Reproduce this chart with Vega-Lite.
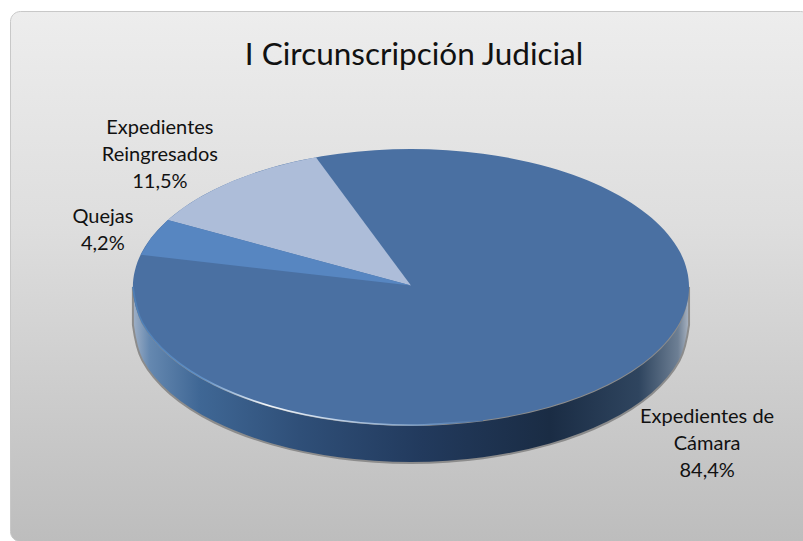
{
"$schema":"https://vega.github.io/schema/vega-lite/v6.json",
"width":800,"height":530,
"autosize":"none",
"padding":{"left":10,"top":11,"right":0,"bottom":0},
"background":"#ffffff",
"config":{"view":{"cornerRadius":10,"stroke":"#c8c8c8","strokeWidth":1,"fill":{"gradient":"linear","x1":0,"y1":0,"x2":0,"y2":1,"stops":[{"offset":0,"color":"#ededed"},{"offset":0.4,"color":"#dedede"},{"offset":1,"color":"#bdbdbd"}]}},"font":"Lato"},
"title":{"text":"I Circunscripción Judicial","font":"Lato","fontSize":31.5,"fontWeight":"normal","color":"#111111","anchor":"middle","frame":"group","dx":4,"offset":-60},
"datasets":{
"disco":[
{"categoria":"Expedientes de Cámara","i":0,"u":0,"v":1},{"categoria":"Expedientes de Cámara","i":1,"u":0.2588,"v":0.9659},{"categoria":"Expedientes de Cámara","i":2,"u":0.5,"v":0.866},{"categoria":"Expedientes de Cámara","i":3,"u":0.7071,"v":0.7071},{"categoria":"Expedientes de Cámara","i":4,"u":0.866,"v":0.5},{"categoria":"Expedientes de Cámara","i":5,"u":0.9659,"v":0.2588},{"categoria":"Expedientes de Cámara","i":6,"u":1,"v":0},{"categoria":"Expedientes de Cámara","i":7,"u":0.9659,"v":-0.2588},{"categoria":"Expedientes de Cámara","i":8,"u":0.866,"v":-0.5},{"categoria":"Expedientes de Cámara","i":9,"u":0.7071,"v":-0.7071},{"categoria":"Expedientes de Cámara","i":10,"u":0.5,"v":-0.866},{"categoria":"Expedientes de Cámara","i":11,"u":0.2588,"v":-0.9659},{"categoria":"Expedientes de Cámara","i":12,"u":0,"v":-1},{"categoria":"Expedientes de Cámara","i":13,"u":-0.2588,"v":-0.9659},{"categoria":"Expedientes de Cámara","i":14,"u":-0.5,"v":-0.866},{"categoria":"Expedientes de Cámara","i":15,"u":-0.7071,"v":-0.7071},{"categoria":"Expedientes de Cámara","i":16,"u":-0.866,"v":-0.5},{"categoria":"Expedientes de Cámara","i":17,"u":-0.9659,"v":-0.2588},{"categoria":"Expedientes de Cámara","i":18,"u":-1,"v":0},{"categoria":"Expedientes de Cámara","i":19,"u":-0.9659,"v":0.2588},{"categoria":"Expedientes de Cámara","i":20,"u":-0.866,"v":0.5},{"categoria":"Expedientes de Cámara","i":21,"u":-0.7071,"v":0.7071},{"categoria":"Expedientes de Cámara","i":22,"u":-0.5,"v":0.866},{"categoria":"Expedientes de Cámara","i":23,"u":-0.2588,"v":0.9659}
],
"porciones":[
{"categoria":"Expedientes Reingresados","i":0,"u":0,"v":0.01},{"categoria":"Expedientes Reingresados","i":1,"u":-0.342,"v":0.94},{"categoria":"Expedientes Reingresados","i":2,"u":-0.423,"v":0.906},{"categoria":"Expedientes Reingresados","i":3,"u":-0.5,"v":0.866},{"categoria":"Expedientes Reingresados","i":4,"u":-0.574,"v":0.819},{"categoria":"Expedientes Reingresados","i":5,"u":-0.643,"v":0.766},{"categoria":"Expedientes Reingresados","i":6,"u":-0.707,"v":0.707},{"categoria":"Expedientes Reingresados","i":7,"u":-0.766,"v":0.643},{"categoria":"Expedientes Reingresados","i":8,"u":-0.819,"v":0.574},{"categoria":"Expedientes Reingresados","i":9,"u":-0.875,"v":0.485},
{"categoria":"Quejas","i":0,"u":0,"v":0.01},{"categoria":"Quejas","i":1,"u":-0.875,"v":0.485},{"categoria":"Quejas","i":2,"u":-0.934,"v":0.358},{"categoria":"Quejas","i":3,"u":-0.972,"v":0.233}
],
"borde":[
{"u":-1,"v":0,"w":-0.275},{"u":-0.9659,"v":-0.2588,"w":-0.5338},{"u":-0.866,"v":-0.5,"w":-0.775},{"u":-0.7071,"v":-0.7071,"w":-0.9821},{"u":-0.5,"v":-0.866,"w":-1.141},{"u":-0.2588,"v":-0.9659,"w":-1.2409},{"u":0,"v":-1,"w":-1.275},{"u":0.2588,"v":-0.9659,"w":-1.2409},{"u":0.5,"v":-0.866,"w":-1.141},{"u":0.7071,"v":-0.7071,"w":-0.9821},{"u":0.866,"v":-0.5,"w":-0.775},{"u":0.9659,"v":-0.2588,"w":-0.5338},{"u":1,"v":0,"w":-0.275}
],
"brillo":[
{"i":0,"u":-1,"v":0},{"i":1,"u":-0.9659,"v":-0.2588},{"i":2,"u":-0.866,"v":-0.5},{"i":3,"u":-0.7071,"v":-0.7071},{"i":4,"u":-0.5,"v":-0.866},{"i":5,"u":-0.2588,"v":-0.9659},{"i":6,"u":0,"v":-1},{"i":7,"u":0.2588,"v":-0.9659}
],
"etiquetas":[
{"etiqueta":"Expedientes\nReingresados\n11,5%","u":-0.903,"v":1.152},
{"etiqueta":"Quejas\n4,2%","u":-1.108,"v":0.507},
{"etiqueta":"Expedientes de\nCámara\n84,4%","u":1.065,"v":-0.942}
]
},
"encoding":{
"x":{"field":"u","type":"quantitative","axis":null,"scale":{"domain":[-1.442,1.435],"nice":false,"zero":false}},
"y":{"field":"v","type":"quantitative","axis":null,"scale":{"domain":[-1.841,2.0],"nice":false,"zero":false}}
},
"layer":[
{"data":{"name":"borde"},
 "mark":{"type":"area","interpolate":"cardinal","stroke":"#8c8c8c","strokeWidth":2,"fill":{"gradient":"linear","x1":0,"y1":0,"x2":1,"y2":0,"stops":[{"offset":0,"color":"#9fb0c6"},{"offset":0.03,"color":"#6588b0"},{"offset":0.12,"color":"#3f6795"},{"offset":0.3,"color":"#2f4f78"},{"offset":0.52,"color":"#223a5d"},{"offset":0.75,"color":"#1a2c44"},{"offset":0.91,"color":"#2f455f"},{"offset":0.98,"color":"#6d7f94"},{"offset":1,"color":"#aab4c2"}]}},
 "encoding":{"y2":{"field":"w"}}},
{"data":{"name":"disco"},
 "mark":{"type":"line","interpolate":"cardinal-closed","strokeWidth":0},
 "encoding":{"order":{"field":"i"},"fill":{"field":"categoria","type":"nominal","legend":null,"scale":{"domain":["Expedientes de Cámara","Quejas","Expedientes Reingresados"],"range":["#4a70a2","#5786c1","#adbdd9"]}}}},
{"data":{"name":"brillo"},
 "mark":{"type":"line","interpolate":"cardinal","strokeWidth":1.6,"stroke":{"gradient":"linear","x1":0,"y1":0,"x2":1,"y2":0,"stops":[{"offset":0,"color":"#4f7fb5"},{"offset":0.2,"color":"#5f8fc5"},{"offset":0.38,"color":"#f0f5fa"},{"offset":0.55,"color":"#c5d6ea"},{"offset":0.85,"color":"#6d93c0"},{"offset":1,"color":"#4a70a2"}]}},
 "encoding":{"order":{"field":"i"}}},
{"data":{"name":"porciones"},
 "mark":{"type":"line","interpolate":"linear","strokeWidth":0},
 "encoding":{"order":{"field":"i"},"fill":{"field":"categoria","type":"nominal","legend":null}}},
{"data":{"name":"etiquetas"},
 "mark":{"type":"text","font":"Lato","fontSize":20,"lineBreak":"\n","lineHeight":27,"align":"center","baseline":"middle","color":"#111111"},
 "encoding":{"text":{"field":"etiqueta","type":"nominal"}}}
]
}
